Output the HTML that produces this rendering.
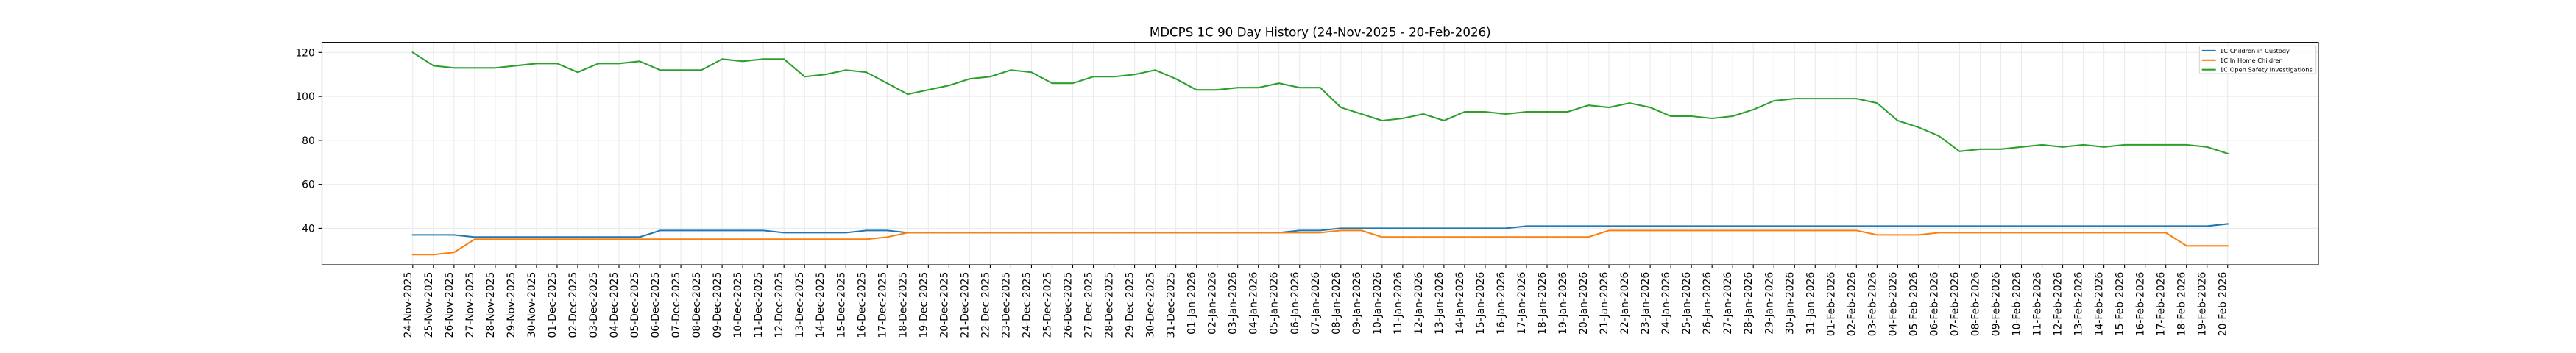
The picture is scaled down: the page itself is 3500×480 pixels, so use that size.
<!DOCTYPE html>
<html><head><meta charset="utf-8"><style>html,body{margin:0;padding:0;background:#fff;}svg{display:block;}</style></head>
<body>
<svg width="3500" height="480" viewBox="0 0 3500 480" xmlns="http://www.w3.org/2000/svg" font-family="'DejaVu Sans', 'Liberation Sans', sans-serif">
<rect x="0" y="0" width="3500" height="480" fill="#fff"/>
<!-- horizontal grid -->
<g stroke="#ebebeb" stroke-width="1.1">
<line x1="437.5" x2="3150" y1="310.4" y2="310.4"/>
<line x1="437.5" x2="3150" y1="250.64" y2="250.64"/>
<line x1="437.5" x2="3150" y1="190.88" y2="190.88"/>
<line x1="437.5" x2="3150" y1="131.12" y2="131.12"/>
<line x1="437.5" x2="3150" y1="71.36" y2="71.36"/>
</g>
<g transform="matrix(28.022 0 0 -2.988 560.8 429.92)">
<path fill="none" stroke="#ebebeb" stroke-width="1.1" vector-effect="non-scaling-stroke" d="M0 23.4V124.6M1 23.4V124.6M2 23.4V124.6M3 23.4V124.6M4 23.4V124.6M5 23.4V124.6M6 23.4V124.6M7 23.4V124.6M8 23.4V124.6M9 23.4V124.6M10 23.4V124.6M11 23.4V124.6M12 23.4V124.6M13 23.4V124.6M14 23.4V124.6M15 23.4V124.6M16 23.4V124.6M17 23.4V124.6M18 23.4V124.6M19 23.4V124.6M20 23.4V124.6M21 23.4V124.6M22 23.4V124.6M23 23.4V124.6M24 23.4V124.6M25 23.4V124.6M26 23.4V124.6M27 23.4V124.6M28 23.4V124.6M29 23.4V124.6M30 23.4V124.6M31 23.4V124.6M32 23.4V124.6M33 23.4V124.6M34 23.4V124.6M35 23.4V124.6M36 23.4V124.6M37 23.4V124.6M38 23.4V124.6M39 23.4V124.6M40 23.4V124.6M41 23.4V124.6M42 23.4V124.6M43 23.4V124.6M44 23.4V124.6M45 23.4V124.6M46 23.4V124.6M47 23.4V124.6M48 23.4V124.6M49 23.4V124.6M50 23.4V124.6M51 23.4V124.6M52 23.4V124.6M53 23.4V124.6M54 23.4V124.6M55 23.4V124.6M56 23.4V124.6M57 23.4V124.6M58 23.4V124.6M59 23.4V124.6M60 23.4V124.6M61 23.4V124.6M62 23.4V124.6M63 23.4V124.6M64 23.4V124.6M65 23.4V124.6M66 23.4V124.6M67 23.4V124.6M68 23.4V124.6M69 23.4V124.6M70 23.4V124.6M71 23.4V124.6M72 23.4V124.6M73 23.4V124.6M74 23.4V124.6M75 23.4V124.6M76 23.4V124.6M77 23.4V124.6M78 23.4V124.6M79 23.4V124.6M80 23.4V124.6M81 23.4V124.6M82 23.4V124.6M83 23.4V124.6M84 23.4V124.6M85 23.4V124.6M86 23.4V124.6M87 23.4V124.6M88 23.4V124.6"/>
<!-- x ticks -->
<path fill="none" stroke="#000" stroke-width="1.1" vector-effect="non-scaling-stroke" d="M0 23.4V21.77M1 23.4V21.77M2 23.4V21.77M3 23.4V21.77M4 23.4V21.77M5 23.4V21.77M6 23.4V21.77M7 23.4V21.77M8 23.4V21.77M9 23.4V21.77M10 23.4V21.77M11 23.4V21.77M12 23.4V21.77M13 23.4V21.77M14 23.4V21.77M15 23.4V21.77M16 23.4V21.77M17 23.4V21.77M18 23.4V21.77M19 23.4V21.77M20 23.4V21.77M21 23.4V21.77M22 23.4V21.77M23 23.4V21.77M24 23.4V21.77M25 23.4V21.77M26 23.4V21.77M27 23.4V21.77M28 23.4V21.77M29 23.4V21.77M30 23.4V21.77M31 23.4V21.77M32 23.4V21.77M33 23.4V21.77M34 23.4V21.77M35 23.4V21.77M36 23.4V21.77M37 23.4V21.77M38 23.4V21.77M39 23.4V21.77M40 23.4V21.77M41 23.4V21.77M42 23.4V21.77M43 23.4V21.77M44 23.4V21.77M45 23.4V21.77M46 23.4V21.77M47 23.4V21.77M48 23.4V21.77M49 23.4V21.77M50 23.4V21.77M51 23.4V21.77M52 23.4V21.77M53 23.4V21.77M54 23.4V21.77M55 23.4V21.77M56 23.4V21.77M57 23.4V21.77M58 23.4V21.77M59 23.4V21.77M60 23.4V21.77M61 23.4V21.77M62 23.4V21.77M63 23.4V21.77M64 23.4V21.77M65 23.4V21.77M66 23.4V21.77M67 23.4V21.77M68 23.4V21.77M69 23.4V21.77M70 23.4V21.77M71 23.4V21.77M72 23.4V21.77M73 23.4V21.77M74 23.4V21.77M75 23.4V21.77M76 23.4V21.77M77 23.4V21.77M78 23.4V21.77M79 23.4V21.77M80 23.4V21.77M81 23.4V21.77M82 23.4V21.77M83 23.4V21.77M84 23.4V21.77M85 23.4V21.77M86 23.4V21.77M87 23.4V21.77M88 23.4V21.77"/>
<!-- series -->
<polyline fill="none" stroke="#1f77b4" stroke-width="2.08" stroke-linejoin="round" stroke-linecap="square" vector-effect="non-scaling-stroke" points="0,37 2,37 3,36 11,36 12,39 17,39 18,38 21,38 22,39 23,39 24,38 42,38 43,39 44,39 45,40 53,40 54,41 87,41 88,42"/>
<polyline fill="none" stroke="#ff7f0e" stroke-width="2.08" stroke-linejoin="round" stroke-linecap="square" vector-effect="non-scaling-stroke" points="0,28 1,28 2,29 3,35 22,35 23,36 24,38 44,38 45,39 46,39 47,36 57,36 58,39 70,39 71,37 73,37 74,38 85,38 86,32 88,32"/>
<polyline fill="none" stroke="#2ca02c" stroke-width="2.08" stroke-linejoin="round" stroke-linecap="square" vector-effect="non-scaling-stroke" points="0,120 1,114 2,113 3,113 4,113 5,114 6,115 7,115 8,111 9,115 10,115 11,116 12,112 13,112 14,112 15,117 16,116 17,117 18,117 19,109 20,110 21,112 22,111 23,106 24,101 25,103 26,105 27,108 28,109 29,112 30,111 31,106 32,106 33,109 34,109 35,110 36,112 37,108 38,103 39,103 40,104 41,104 42,106 43,104 44,104 45,95 46,92 47,89 48,90 49,92 50,89 51,93 52,93 53,92 54,93 55,93 56,93 57,96 58,95 59,97 60,95 61,91 62,91 63,90 64,91 65,94 66,98 67,99 68,99 69,99 70,99 71,97 72,89 73,86 74,82 75,75 76,76 77,76 78,77 79,78 80,77 81,78 82,77 83,78 84,78 85,78 86,78 87,77 88,74"/>
</g>
<!-- y ticks -->
<g stroke="#000" stroke-width="1.1">
<line x1="432.6" x2="437.5" y1="310.4" y2="310.4"/>
<line x1="432.6" x2="437.5" y1="250.64" y2="250.64"/>
<line x1="432.6" x2="437.5" y1="190.88" y2="190.88"/>
<line x1="432.6" x2="437.5" y1="131.12" y2="131.12"/>
<line x1="432.6" x2="437.5" y1="71.36" y2="71.36"/>
</g>
<g font-size="13.89" fill="#000" text-anchor="end">
<text x="427.8" y="315.4">40</text>
<text x="427.8" y="255.6">60</text>
<text x="427.8" y="195.9">80</text>
<text x="427.8" y="136.1">100</text>
<text x="427.8" y="76.4">120</text>
</g>
<!-- spines -->
<rect x="437.5" y="57.6" width="2712.5" height="302.4" fill="none" stroke="#000" stroke-width="1.1"/>
<!-- title -->
<text x="1793.75" y="49.3" font-size="16.67" text-anchor="middle" fill="#000">MDCPS 1C 90 Day History (24-Nov-2025 - 20-Feb-2026)</text>
<!-- x labels -->
<g font-size="13.89" fill="#000" text-anchor="end">
<text transform="translate(558.8,369.7) rotate(-90)">24-Nov-2025</text>
<text transform="translate(586.8,369.7) rotate(-90)">25-Nov-2025</text>
<text transform="translate(614.8,369.7) rotate(-90)">26-Nov-2025</text>
<text transform="translate(642.9,369.7) rotate(-90)">27-Nov-2025</text>
<text transform="translate(670.9,369.7) rotate(-90)">28-Nov-2025</text>
<text transform="translate(698.9,369.7) rotate(-90)">29-Nov-2025</text>
<text transform="translate(726.9,369.7) rotate(-90)">30-Nov-2025</text>
<text transform="translate(755.0,369.7) rotate(-90)">01-Dec-2025</text>
<text transform="translate(783.0,369.7) rotate(-90)">02-Dec-2025</text>
<text transform="translate(811.0,369.7) rotate(-90)">03-Dec-2025</text>
<text transform="translate(839.0,369.7) rotate(-90)">04-Dec-2025</text>
<text transform="translate(867.0,369.7) rotate(-90)">05-Dec-2025</text>
<text transform="translate(895.1,369.7) rotate(-90)">06-Dec-2025</text>
<text transform="translate(923.1,369.7) rotate(-90)">07-Dec-2025</text>
<text transform="translate(951.1,369.7) rotate(-90)">08-Dec-2025</text>
<text transform="translate(979.1,369.7) rotate(-90)">09-Dec-2025</text>
<text transform="translate(1007.2,369.7) rotate(-90)">10-Dec-2025</text>
<text transform="translate(1035.2,369.7) rotate(-90)">11-Dec-2025</text>
<text transform="translate(1063.2,369.7) rotate(-90)">12-Dec-2025</text>
<text transform="translate(1091.2,369.7) rotate(-90)">13-Dec-2025</text>
<text transform="translate(1119.2,369.7) rotate(-90)">14-Dec-2025</text>
<text transform="translate(1147.3,369.7) rotate(-90)">15-Dec-2025</text>
<text transform="translate(1175.3,369.7) rotate(-90)">16-Dec-2025</text>
<text transform="translate(1203.3,369.7) rotate(-90)">17-Dec-2025</text>
<text transform="translate(1231.3,369.7) rotate(-90)">18-Dec-2025</text>
<text transform="translate(1259.4,369.7) rotate(-90)">19-Dec-2025</text>
<text transform="translate(1287.4,369.7) rotate(-90)">20-Dec-2025</text>
<text transform="translate(1315.4,369.7) rotate(-90)">21-Dec-2025</text>
<text transform="translate(1343.4,369.7) rotate(-90)">22-Dec-2025</text>
<text transform="translate(1371.4,369.7) rotate(-90)">23-Dec-2025</text>
<text transform="translate(1399.5,369.7) rotate(-90)">24-Dec-2025</text>
<text transform="translate(1427.5,369.7) rotate(-90)">25-Dec-2025</text>
<text transform="translate(1455.5,369.7) rotate(-90)">26-Dec-2025</text>
<text transform="translate(1483.5,369.7) rotate(-90)">27-Dec-2025</text>
<text transform="translate(1511.6,369.7) rotate(-90)">28-Dec-2025</text>
<text transform="translate(1539.6,369.7) rotate(-90)">29-Dec-2025</text>
<text transform="translate(1567.6,369.7) rotate(-90)">30-Dec-2025</text>
<text transform="translate(1595.6,369.7) rotate(-90)">31-Dec-2025</text>
<text transform="translate(1623.6,369.7) rotate(-90)">01-Jan-2026</text>
<text transform="translate(1651.7,369.7) rotate(-90)">02-Jan-2026</text>
<text transform="translate(1679.7,369.7) rotate(-90)">03-Jan-2026</text>
<text transform="translate(1707.7,369.7) rotate(-90)">04-Jan-2026</text>
<text transform="translate(1735.7,369.7) rotate(-90)">05-Jan-2026</text>
<text transform="translate(1763.8,369.7) rotate(-90)">06-Jan-2026</text>
<text transform="translate(1791.8,369.7) rotate(-90)">07-Jan-2026</text>
<text transform="translate(1819.8,369.7) rotate(-90)">08-Jan-2026</text>
<text transform="translate(1847.8,369.7) rotate(-90)">09-Jan-2026</text>
<text transform="translate(1875.8,369.7) rotate(-90)">10-Jan-2026</text>
<text transform="translate(1903.9,369.7) rotate(-90)">11-Jan-2026</text>
<text transform="translate(1931.9,369.7) rotate(-90)">12-Jan-2026</text>
<text transform="translate(1959.9,369.7) rotate(-90)">13-Jan-2026</text>
<text transform="translate(1987.9,369.7) rotate(-90)">14-Jan-2026</text>
<text transform="translate(2015.9,369.7) rotate(-90)">15-Jan-2026</text>
<text transform="translate(2044.0,369.7) rotate(-90)">16-Jan-2026</text>
<text transform="translate(2072.0,369.7) rotate(-90)">17-Jan-2026</text>
<text transform="translate(2100.0,369.7) rotate(-90)">18-Jan-2026</text>
<text transform="translate(2128.0,369.7) rotate(-90)">19-Jan-2026</text>
<text transform="translate(2156.1,369.7) rotate(-90)">20-Jan-2026</text>
<text transform="translate(2184.1,369.7) rotate(-90)">21-Jan-2026</text>
<text transform="translate(2212.1,369.7) rotate(-90)">22-Jan-2026</text>
<text transform="translate(2240.1,369.7) rotate(-90)">23-Jan-2026</text>
<text transform="translate(2268.1,369.7) rotate(-90)">24-Jan-2026</text>
<text transform="translate(2296.2,369.7) rotate(-90)">25-Jan-2026</text>
<text transform="translate(2324.2,369.7) rotate(-90)">26-Jan-2026</text>
<text transform="translate(2352.2,369.7) rotate(-90)">27-Jan-2026</text>
<text transform="translate(2380.2,369.7) rotate(-90)">28-Jan-2026</text>
<text transform="translate(2408.3,369.7) rotate(-90)">29-Jan-2026</text>
<text transform="translate(2436.3,369.7) rotate(-90)">30-Jan-2026</text>
<text transform="translate(2464.3,369.7) rotate(-90)">31-Jan-2026</text>
<text transform="translate(2492.3,369.7) rotate(-90)">01-Feb-2026</text>
<text transform="translate(2520.3,369.7) rotate(-90)">02-Feb-2026</text>
<text transform="translate(2548.4,369.7) rotate(-90)">03-Feb-2026</text>
<text transform="translate(2576.4,369.7) rotate(-90)">04-Feb-2026</text>
<text transform="translate(2604.4,369.7) rotate(-90)">05-Feb-2026</text>
<text transform="translate(2632.4,369.7) rotate(-90)">06-Feb-2026</text>
<text transform="translate(2660.5,369.7) rotate(-90)">07-Feb-2026</text>
<text transform="translate(2688.5,369.7) rotate(-90)">08-Feb-2026</text>
<text transform="translate(2716.5,369.7) rotate(-90)">09-Feb-2026</text>
<text transform="translate(2744.5,369.7) rotate(-90)">10-Feb-2026</text>
<text transform="translate(2772.5,369.7) rotate(-90)">11-Feb-2026</text>
<text transform="translate(2800.6,369.7) rotate(-90)">12-Feb-2026</text>
<text transform="translate(2828.6,369.7) rotate(-90)">13-Feb-2026</text>
<text transform="translate(2856.6,369.7) rotate(-90)">14-Feb-2026</text>
<text transform="translate(2884.6,369.7) rotate(-90)">15-Feb-2026</text>
<text transform="translate(2912.7,369.7) rotate(-90)">16-Feb-2026</text>
<text transform="translate(2940.7,369.7) rotate(-90)">17-Feb-2026</text>
<text transform="translate(2968.7,369.7) rotate(-90)">18-Feb-2026</text>
<text transform="translate(2996.7,369.7) rotate(-90)">19-Feb-2026</text>
<text transform="translate(3024.7,369.7) rotate(-90)">20-Feb-2026</text>
</g>
<!-- legend -->
<rect x="2988.3" y="62.3" width="158.4" height="37.7" rx="2" ry="2" fill="#fff" fill-opacity="0.8" stroke="#cccccc" stroke-opacity="0.8" stroke-width="1.1"/>
<g stroke-width="2.08">
<line x1="2991.7" x2="3010.7" y1="68.9" y2="68.9" stroke="#1f77b4"/>
<line x1="2991.7" x2="3010.7" y1="81.8" y2="81.8" stroke="#ff7f0e"/>
<line x1="2991.7" x2="3010.7" y1="94.7" y2="94.7" stroke="#2ca02c"/>
</g>
<g font-size="8.3" fill="#000">
<text x="3016" y="71.9">1C Children in Custody</text>
<text x="3016" y="84.8">1C In Home Children</text>
<text x="3016" y="97.7">1C Open Safety Investigations</text>
</g>
</svg>
</body></html>
